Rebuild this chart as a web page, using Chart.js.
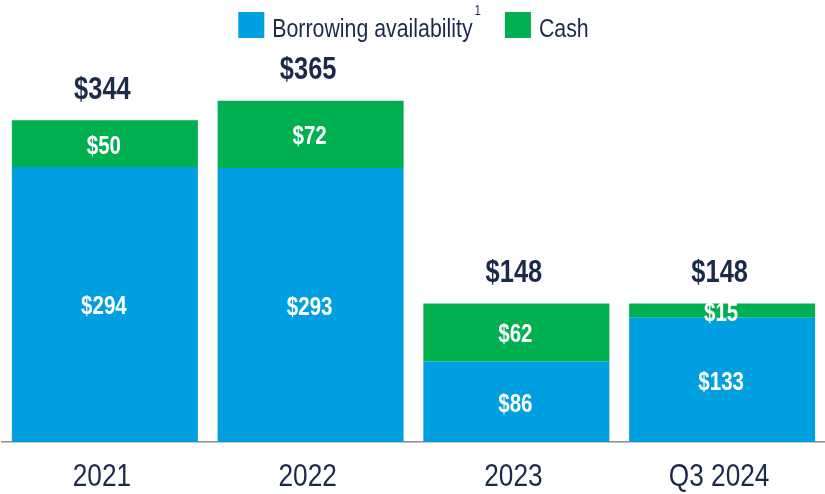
<!DOCTYPE html>
<html>
<head>
<meta charset="utf-8">
<script src="https://cdn.jsdelivr.net/npm/chart.js@4"></script>
<style>
  html, body { margin: 0; padding: 0; background: #fff; }
  #wrap { width: 825px; height: 494px; position: relative; }
</style>
</head>
<body>
<div id="wrap"><canvas id="chart"></canvas></div>
<script>
const categories = ['2021', '2022', '2023', 'Q3 2024'];
const borrowing = [294, 293, 86, 133];
const cash = [50, 72, 62, 15];
const seriesNames = ['Borrowing availability', 'Cash'];
const legendNote = '1';

const NAVY = '#1c2a4a';
const BLUE = '#009fdf';
const GREEN = '#00b050';
const FONT = "'Liberation Sans', Arial, sans-serif";
const NARROW = 0.82; // no narrow face installed, squeeze the regular one

// draw text squeezed horizontally, x is the anchor for the given align
function narrowText(ctx, text, x, y, align) {
  ctx.save();
  ctx.translate(x, y);
  ctx.scale(NARROW, 1);
  ctx.textAlign = align || 'center';
  ctx.fillText(text, 0, 0);
  ctx.restore();
}

// white $ labels in the middle of each segment
const segmentLabels = {
  id: 'segmentLabels',
  afterDatasetsDraw(chart) {
    const ctx = chart.ctx;
    ctx.save();
    ctx.fillStyle = '#fff';
    ctx.font = 'bold 25px ' + FONT;
    ctx.textBaseline = 'middle';
    chart.data.datasets.forEach((ds, i) => {
      chart.getDatasetMeta(i).data.forEach((bar, j) => {
        const mid = (bar.y + bar.base) / 2 + 3;
        narrowText(ctx, '$' + ds.data[j], bar.x - 1, mid);
      });
    });
    ctx.restore();
  }
};

// totals above each stack
const totalLabels = {
  id: 'totalLabels',
  afterDatasetsDraw(chart) {
    const ctx = chart.ctx;
    const last = chart.getDatasetMeta(chart.data.datasets.length - 1);
    ctx.save();
    ctx.fillStyle = NAVY;
    ctx.font = 'bold 31px ' + FONT;
    ctx.textBaseline = 'middle';
    last.data.forEach((bar, j) => {
      const total = chart.data.datasets.reduce((s, ds) => s + ds.data[j], 0);
      narrowText(ctx, '$' + total, bar.x - 2.5, bar.y - 30);
    });
    ctx.restore();
  }
};

// category names under the axis, placed by the x scale
const categoryLabels = {
  id: 'categoryLabels',
  afterDraw(chart) {
    const ctx = chart.ctx;
    const xs = chart.scales.x;
    ctx.save();
    ctx.fillStyle = NAVY;
    ctx.font = '32px ' + FONT;
    ctx.textBaseline = 'middle';
    categories.forEach((c, i) => {
      narrowText(ctx, c, xs.getPixelForTick(i) - 3, chart.chartArea.bottom + 35);
    });
    ctx.restore();
  }
};

// legend with the footnote mark on the first entry
const topLegend = {
  id: 'topLegend',
  afterDraw(chart) {
    const ctx = chart.ctx;
    const box = 26, gap = 8, itemGap = 24;
    ctx.save();
    ctx.font = '26px ' + FONT;
    const w1 = ctx.measureText(seriesNames[0]).width * NARROW;
    const w2 = ctx.measureText(seriesNames[1]).width * NARROW;
    ctx.font = '14px ' + FONT;
    const ws = ctx.measureText(legendNote).width * NARROW;
    const total = box + gap + w1 + 2 + ws + itemGap + box + gap + w2;
    let x = chart.width / 2 - total / 2 + 1;
    const colors = chart.data.datasets.map(d => d.backgroundColor);

    ctx.fillStyle = colors[0];
    ctx.fillRect(x, 12, box, box);
    x += box + gap;
    ctx.fillStyle = NAVY;
    ctx.font = '26px ' + FONT;
    ctx.textBaseline = 'alphabetic';
    narrowText(ctx, seriesNames[0], x, 37, 'left');
    x += w1 + 2;
    ctx.font = '14px ' + FONT;
    narrowText(ctx, legendNote, x, 15, 'left');
    x += ws + itemGap;

    ctx.fillStyle = colors[1];
    ctx.fillRect(x, 12, box, box);
    x += box + gap;
    ctx.fillStyle = NAVY;
    ctx.font = '26px ' + FONT;
    narrowText(ctx, seriesNames[1], x, 37, 'left');
    ctx.restore();
  }
};

new Chart(document.getElementById('chart'), {
  type: 'bar',
  data: {
    labels: categories,
    datasets: [
      { label: seriesNames[0], data: borrowing, backgroundColor: BLUE },
      { label: seriesNames[1], data: cash, backgroundColor: GREEN }
    ]
  },
  options: {
    responsive: true,
    maintainAspectRatio: false,
    animation: false,
    categoryPercentage: 1,
    barPercentage: 0.904,
    layout: { padding: { top: 68, left: 2, right: 0, bottom: 0 } },
    plugins: {
      legend: { display: false },
      tooltip: { enabled: false }
    },
    scales: {
      x: {
        stacked: true,
        grid: { display: false, drawTicks: false },
        border: { display: true, color: '#8c8c8c', width: 1.5 },
        ticks: { display: false },
        afterFit(scale) { scale.height = 52; }
      },
      y: {
        stacked: true,
        display: false,
        min: 0,
        max: 400
      }
    }
  },
  plugins: [segmentLabels, totalLabels, categoryLabels, topLegend]
});
</script>
</body>
</html>
